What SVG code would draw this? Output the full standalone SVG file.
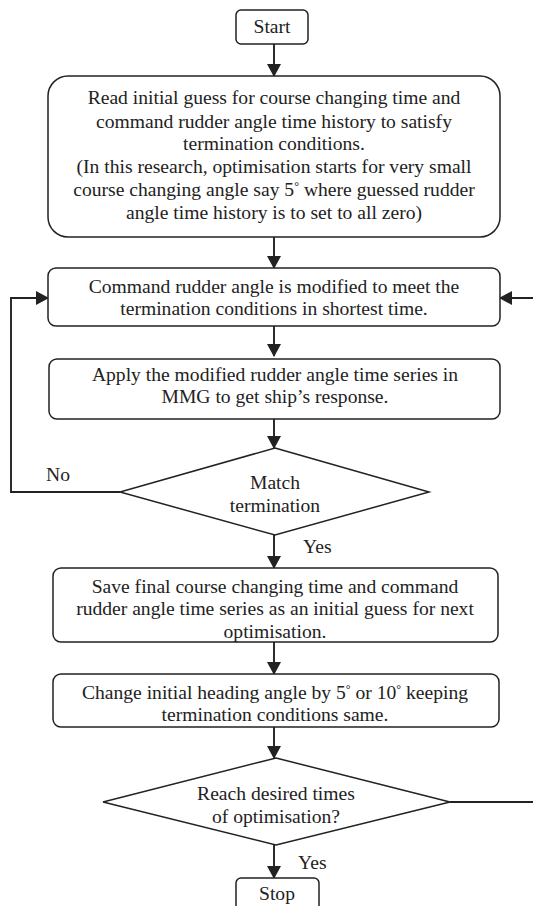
<svg xmlns="http://www.w3.org/2000/svg" width="533" height="906" viewBox="0 0 533 906">
<style>
.box{fill:#fff;stroke:#222;stroke-width:1.5}
.ln{fill:none;stroke:#222;stroke-width:1.9}
text{font-family:"Liberation Serif","Times New Roman",serif;font-size:19.6px;fill:#222;text-anchor:middle}
.lbl{text-anchor:start}
.deg{font-size:12px}
</style>
<defs>
<marker id="ah" markerWidth="13" markerHeight="14" refX="12" refY="7" orient="auto" markerUnits="userSpaceOnUse">
<path d="M0,0 L13,7 L0,14 Z" fill="#222"/>
</marker>
</defs>
<rect width="533" height="906" fill="#fff"/>
<g id="connectors">
<line class="ln" x1="274" y1="44" x2="274" y2="76" marker-end="url(#ah)"/>
<line class="ln" x1="274" y1="237" x2="274" y2="268" marker-end="url(#ah)"/>
<line class="ln" x1="274" y1="326" x2="274" y2="356" marker-end="url(#ah)"/>
<line class="ln" x1="274" y1="419" x2="274" y2="448" marker-end="url(#ah)"/>
<polyline class="ln" points="120,492 11,492 11,298 48,298" marker-end="url(#ah)"/>
<line class="ln" x1="274" y1="535" x2="274" y2="568" marker-end="url(#ah)"/>
<line class="ln" x1="274" y1="642" x2="274" y2="674" marker-end="url(#ah)"/>
<line class="ln" x1="274" y1="727" x2="274" y2="758" marker-end="url(#ah)"/>
<line class="ln" x1="450" y1="802" x2="533" y2="802"/>
<line class="ln" x1="533" y1="298" x2="500" y2="298" marker-end="url(#ah)"/>
<line class="ln" x1="274" y1="845" x2="274" y2="878" marker-end="url(#ah)"/>
<text class="lbl" x="46" y="481">No</text>
<text class="lbl" x="303" y="553">Yes</text>
<text class="lbl" x="298" y="869">Yes</text>
</g>
<g id="start">
<rect class="box" x="236" y="10" width="72" height="34" rx="5"/>
<text x="272" y="33">Start</text>
</g>
<g id="init">
<rect class="box" x="48" y="76" width="452" height="161" rx="20"/>
<text x="274" y="104">Read initial guess for course changing time and</text>
<text x="274" y="128">command rudder angle time history to satisfy</text>
<text x="274" y="150">termination conditions.</text>
<text x="274" y="173">(In this research, optimisation starts for very small</text>
<text x="274" y="196">course changing angle say 5<tspan class="deg" dy="-6">°</tspan><tspan dy="6"> where guessed rudder</tspan></text>
<text x="274" y="219">angle time history is to set to all zero)</text>
</g>
<g id="modify">
<rect class="box" x="48" y="268" width="452" height="58" rx="8"/>
<text x="274" y="293">Command rudder angle is modified to meet the</text>
<text x="274" y="315">termination conditions in shortest time.</text>
</g>
<g id="apply">
<rect class="box" x="49" y="359" width="451" height="60" rx="8"/>
<text x="275" y="381">Apply the modified rudder angle time series in</text>
<text x="275" y="403">MMG to get ship’s response.</text>
</g>
<g id="match">
<polygon class="box" points="275,448 429,492 275,535 120,492"/>
<text x="275" y="489">Match</text>
<text x="275" y="512">termination</text>
</g>
<g id="save">
<rect class="box" x="53" y="568" width="445" height="74" rx="8"/>
<text x="275" y="593">Save final course changing time and command</text>
<text x="275" y="615">rudder angle time series as an initial guess for next</text>
<text x="275" y="638">optimisation.</text>
</g>
<g id="change">
<rect class="box" x="53" y="674" width="446" height="53" rx="8"/>
<text x="275" y="699">Change initial heading angle by 5<tspan class="deg" dy="-6">°</tspan><tspan dy="6"> or 10</tspan><tspan class="deg" dy="-6">°</tspan><tspan dy="6"> keeping</tspan></text>
<text x="275" y="721">termination conditions same.</text>
</g>
<g id="reach">
<polygon class="box" points="276,758 450,802 276,845 103,802"/>
<text x="276" y="800">Reach desired times</text>
<text x="276" y="823">of optimisation?</text>
</g>
<g id="stop">
<rect class="box" x="236" y="878" width="83" height="40" rx="5"/>
<text x="277" y="900">Stop</text>
</g>
</svg>
